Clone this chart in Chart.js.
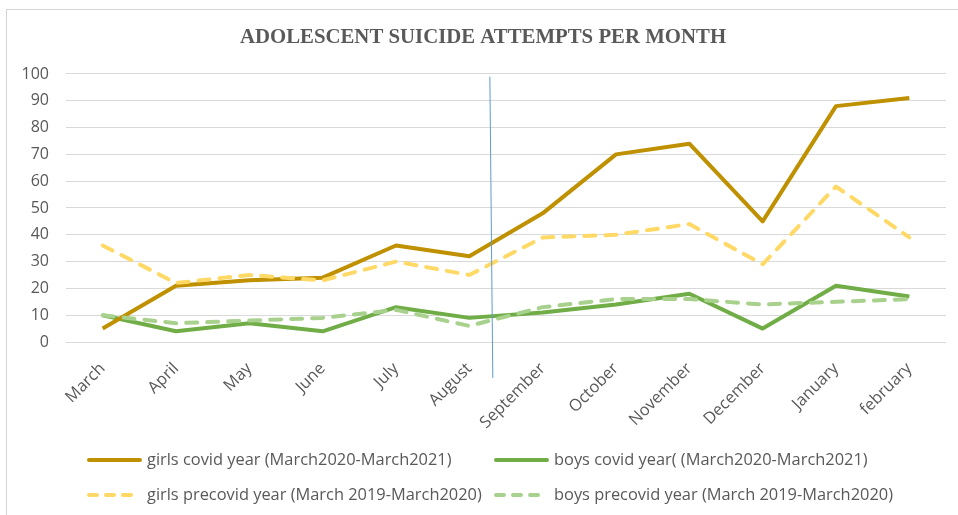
<!DOCTYPE html>
<html>
<head>
<meta charset="utf-8">
<script src="https://cdn.jsdelivr.net/npm/chart.js@4.4.0/dist/chart.umd.min.js"></script>
<style>
  html, body { margin: 0; padding: 0; background: #fff; }
  #wrap { position: relative; width: 958px; height: 515px; overflow: hidden; }
  #frame { position: absolute; left: 6px; top: 9px; width: 1000px; height: 600px;
           border-left: 1px solid #d4d4d4; border-top: 1px solid #d4d4d4; pointer-events: none; }
  canvas { position: absolute; left: 0; top: 0; }
</style>
</head>
<body>
<div id="wrap">
  <div id="frame"></div>
  <canvas id="chart" width="958" height="515"></canvas>
</div>
<script>
const months = ["March", "April", "May", "June", "July", "August", "September",
  "October", "November", "December", "January", "february"];
const girlsCovid    = [5, 21, 23, 24, 36, 32, 48, 70, 74, 45, 88, 91];
const boysCovid     = [10, 4, 7, 4, 13, 9, 11, 14, 18, 5, 21, 17];
const girlsPrecovid = [36, 22, 25, 23, 30, 25, 39, 40, 44, 29, 58, 39];
const boysPrecovid  = [10, 7, 8, 9, 12, 6, 13, 16, 16, 14, 15, 16];
const seriesNames = [
  "girls covid year (March2020-March2021)",
  "boys covid year( (March2020-March2021)",
  "girls precovid year (March 2019-March2020)",
  "boys precovid year (March 2019-March2020)"
];
// the thin blue divider between August and September (category units / values)
const dividerX = [5.28, 5.32];
const dividerY = [99, -13.4];

const textColor = "#595959";
const uiFont = '"Open Sans", "Liberation Sans", sans-serif';

function lineSet(label, data, color, dashed, order) {
  return {
    label, data,
    borderColor: color,
    backgroundColor: color,
    borderWidth: 4,
    borderDash: dashed ? [11, 10] : [],
    borderCapStyle: dashed ? "round" : "butt",
    borderJoinStyle: "round",
    pointRadius: 0,
    tension: 0,
    fill: false,
    order
  };
}

const datasets = [
  lineSet(seriesNames[0], girlsCovid, "#BF9000", false, 2),
  lineSet(seriesNames[1], boysCovid, "#70AD47", false, 2),
  lineSet(seriesNames[2], girlsPrecovid, "#FFD966", true, 1),
  lineSet(seriesNames[3], boysPrecovid, "#A9D18E", true, 1)
];

const dividerPlugin = {
  id: "divider",
  afterDatasetsDraw(chart) {
    const { ctx, scales: { x, y } } = chart;
    ctx.save();
    ctx.strokeStyle = "#5B9BD5";
    ctx.lineWidth = 1;
    ctx.beginPath();
    ctx.moveTo(x.getPixelForValue(dividerX[0]), y.getPixelForValue(dividerY[0]));
    ctx.lineTo(x.getPixelForValue(dividerX[1]), y.getPixelForValue(dividerY[1]));
    ctx.stroke();
    ctx.restore();
  }
};

// Excel style legend: two columns, two rows
const legendPlugin = {
  id: "colLegend",
  afterDraw(chart) {
    const { ctx } = chart;
    const colX = [87, 494];
    const rowY = [460, 495];
    ctx.save();
    ctx.font = "16.4px " + uiFont;
    ctx.textBaseline = "middle";
    ctx.fillStyle = textColor;
    chart.data.datasets.forEach((ds, i) => {
      const lx = colX[i % 2];
      const ly = rowY[Math.floor(i / 2)];
      ctx.save();
      ctx.strokeStyle = ds.borderColor;
      ctx.lineWidth = 4;
      ctx.lineCap = "round";
      ctx.beginPath();
      if (ds.borderDash.length) {
        ctx.setLineDash([8, 9]);
        ctx.moveTo(lx + 2, ly);
        ctx.lineTo(lx + 50, ly);
      } else {
        ctx.moveTo(lx + 2, ly);
        ctx.lineTo(lx + 53, ly);
      }
      ctx.stroke();
      ctx.restore();
      ctx.fillText(ds.label, lx + 60, ly);
    });
    ctx.restore();
  }
};

new Chart(document.getElementById("chart"), {
  type: "line",
  data: { labels: months, datasets },
  plugins: [dividerPlugin, legendPlugin],
  options: {
    responsive: false,
    animation: false,
    devicePixelRatio: 1,
    layout: { padding: { top: 0, left: 20, right: 12, bottom: 73 } },
    plugins: {
      legend: { display: false },
      tooltip: { enabled: false },
      title: {
        display: true,
        text: "ADOLESCENT SUICIDE ATTEMPTS PER MONTH",
        color: textColor,
        font: { family: '"Liberation Serif", "Times New Roman", serif', size: 20.8, weight: "bold" },
        padding: { top: 25, bottom: 24 }
      }
    },
    scales: {
      x: {
        offset: true,
        grid: { display: false },
        border: { display: false },
        ticks: {
          color: textColor,
          font: { family: uiFont, size: 16.4 },
          maxRotation: 45,
          minRotation: 45,
          autoSkip: false,
          padding: 9
        },
        afterFit(scale) { scale.height = 100; }
      },
      y: {
        min: 0,
        max: 100,
        ticks: {
          stepSize: 10,
          color: textColor,
          font: { family: uiFont, size: 16 },
          padding: 17
        },
        grid: { color: "#D9D9D9", lineWidth: 1, drawTicks: false },
        border: { display: false },
        afterFit(scale) { scale.width = 46; }
      }
    }
  }
});
</script>
</body>
</html>
